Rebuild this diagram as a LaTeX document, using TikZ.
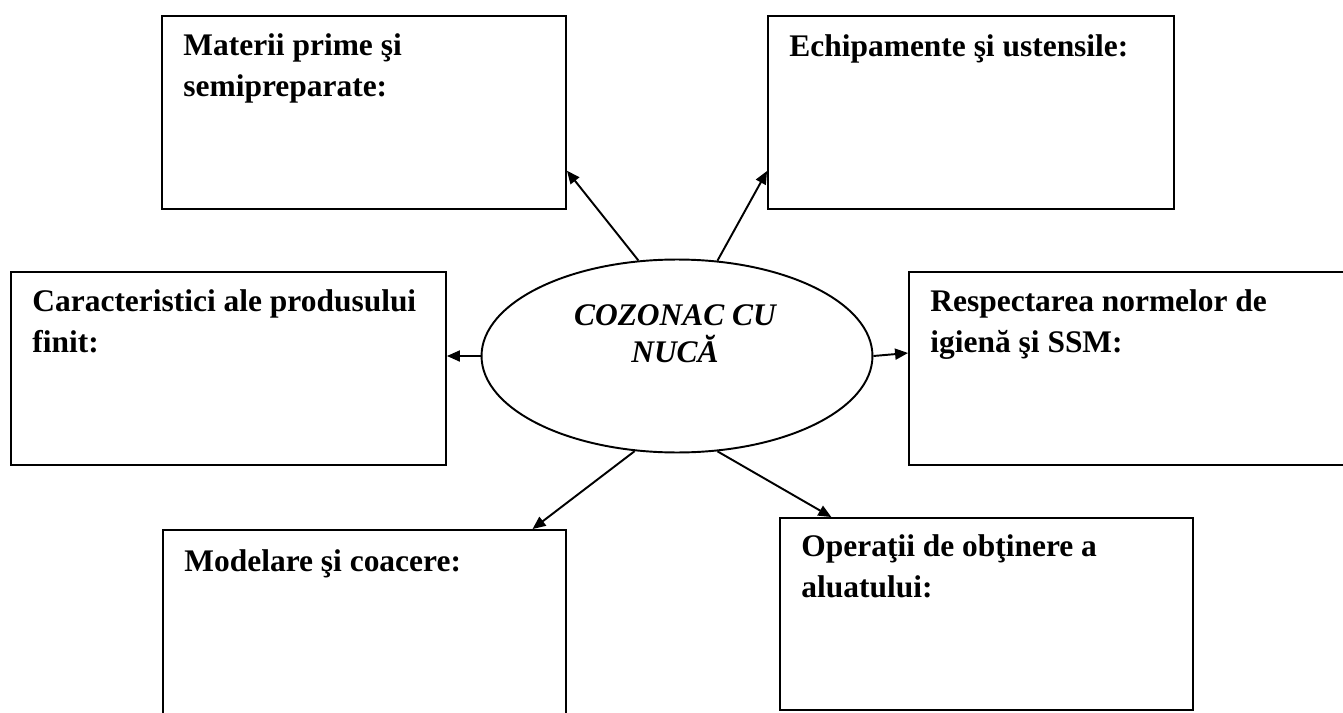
\documentclass[tikz,border=0pt]{standalone}
\usepackage{fontspec}
\setmainfont{Liberation Serif}
\usetikzlibrary{shapes,arrows.meta}

\begin{document}
\begin{tikzpicture}[x=0.02cm,y=-0.02cm,
    b/.style={draw,line width=1.1pt,inner sep=0pt},%
    e/.style={draw,ellipse,line width=1.1pt,inner sep=0pt,minimum width=7.82cm,minimum height=3.86cm},%
    t/.style={anchor=base west,align=left,inner sep=0pt,font=\fontsize{17.9}{22.8}\selectfont\bfseries},%
    f/.style={->,line width=1.1pt,>={Triangle[length=0.26cm,width=0.22cm]}}]
    \path[use as bounding box,clip] (0,0) rectangle (1343,713);
    \node[e] (ell) at (677,356) {};
    \node[t,anchor=base,align=center,font=\fontsize{17.9}{21}\selectfont\bfseries\itshape] (ellt) at (675,362) {COZONAC CU\\NUCĂ};
    \node[b,minimum width=8.08cm,minimum height=3.86cm] (mat) at (364,112.5) {};
    \node[b,minimum width=8.12cm,minimum height=3.86cm] (ech) at (971,112.5) {};
    \node[b,minimum width=8.7cm,minimum height=3.86cm] (car) at (228.5,368.5) {};
    \node[b,minimum width=9.02cm,minimum height=3.86cm] (res) at (1134.5,368.5) {};
    \node[b,minimum width=8.06cm,minimum height=4cm] (mod) at (364.5,630) {};
    \node[b,minimum width=8.26cm,minimum height=3.84cm] (ope) at (986.5,614) {};
    % base of a two line text = its second line
    \node[t] (matt) at ([shift={(22,81)}]mat.north west) {Materii prime şi\\semipreparate:};
    \node[t] (echt) at ([shift={(22,41)}]ech.north west) {Echipamente şi ustensile:};
    \node[t] (cart) at ([shift={(22,81)}]car.north west) {Caracteristici ale produsului\\finit:};
    \node[t] (rest) at ([shift={(22,81)}]res.north west) {Respectarea normelor de\\igienă şi SSM:};
    \node[t] (modt) at ([shift={(22,42)}]mod.north west) {Modelare şi coacere:};
    \node[t] (opet) at ([shift={(22,80)}]ope.north west) {Operaţii de obţinere a\\aluatului:};
    \draw[f] (ell.112.4) -- (mat.-16.7);
    \draw[f] (ell.67.3) -- (ech.196.85);
    \draw[f] (ell.west) -- (ell.west -| car.east);
    \draw[f] (ell.east) -- ([yshift=0.06cm]ell.east -| res.west);
    \draw[f] (ell.246.9) -- (mod.31.4);
    \draw[f] (ell.293.1) -- (ope.148.15);
\end{tikzpicture}
\end{document}
